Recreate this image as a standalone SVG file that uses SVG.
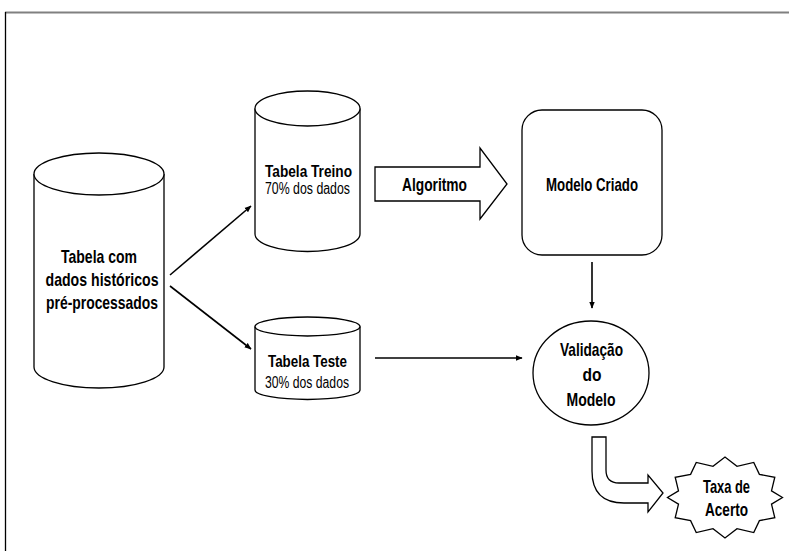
<svg xmlns="http://www.w3.org/2000/svg" width="789" height="551" viewBox="0 0 789 551">
<defs>
<style>
.s{fill:#fff;stroke:#000;stroke-width:1.3}
.t{font-family:"Liberation Sans",Arial,sans-serif;font-weight:bold;font-size:19px;fill:#000;text-anchor:middle}
.m{font-size:17px}
.r{font-family:"Liberation Sans",Arial,sans-serif;font-size:16px;fill:#000;text-anchor:middle}
.c{fill:none;stroke:#000;stroke-width:1.6}
</style>
<marker id="ah" viewBox="0 0 10 10" refX="9" refY="5" markerWidth="7" markerHeight="7" orient="auto" markerUnits="userSpaceOnUse">
<path d="M0,1 L10,5 L0,9 Z" fill="#000"/>
</marker>
</defs>
<rect width="789" height="551" fill="#fff"/>
<line x1="5" y1="12.5" x2="789" y2="12.5" stroke="#808080" stroke-width="2"/>
<line x1="5.5" y1="12" x2="5.5" y2="551" stroke="#000" stroke-width="1.3"/>

<g id="tabela-historica">
<path class="s" d="M34,174 L34,367 A65,21 0 0 0 164,367 L164,174"/>
<ellipse class="s" cx="99" cy="174" rx="65" ry="21"/>
<text class="t" x="99" y="263" textLength="76" lengthAdjust="spacingAndGlyphs">Tabela com</text>
<text class="t" x="102" y="286" textLength="113" lengthAdjust="spacingAndGlyphs">dados históricos</text>
<text class="t" x="102" y="309" textLength="112" lengthAdjust="spacingAndGlyphs">pré-processados</text>
</g>

<g id="tabela-treino">
<path class="s" d="M255,108.5 L255,234 A52.5,17.5 0 0 0 360,234 L360,108.5"/>
<ellipse class="s" cx="307.5" cy="108.5" rx="52.5" ry="17.5"/>
<text class="t m" x="308.5" y="177" textLength="87" lengthAdjust="spacingAndGlyphs">Tabela Treino</text>
<text class="r" x="307.5" y="194" textLength="85" lengthAdjust="spacingAndGlyphs">70% dos dados</text>
</g>

<g id="tabela-teste">
<path class="s" d="M255,326.5 L255,390 A52.5,9.5 0 0 0 360,390 L360,326.5"/>
<ellipse class="s" cx="307.5" cy="326.5" rx="52.5" ry="9.5"/>
<text class="t m" x="307.5" y="367" textLength="79" lengthAdjust="spacingAndGlyphs">Tabela Teste</text>
<text class="r" x="307" y="388" textLength="84" lengthAdjust="spacingAndGlyphs">30% dos dados</text>
</g>

<g id="algoritmo">
<path class="s" d="M375,167 L480,167 L480,148 L507,184 L480,219 L480,201 L375,201 Z"/>
<text class="t" x="434.5" y="191" textLength="65" lengthAdjust="spacingAndGlyphs">Algoritmo</text>
</g>

<g id="modelo-criado">
<rect class="s" x="522" y="110" width="140" height="145" rx="20" ry="20"/>
<text class="t" x="592" y="191" textLength="92" lengthAdjust="spacingAndGlyphs">Modelo Criado</text>
</g>

<g id="validacao">
<ellipse class="s" cx="591" cy="373" rx="58" ry="52"/>
<text class="t" x="591.5" y="356" textLength="63" lengthAdjust="spacingAndGlyphs">Validação</text>
<text class="t" x="592" y="381" textLength="19" lengthAdjust="spacingAndGlyphs">do</text>
<text class="t" x="591" y="406" textLength="49" lengthAdjust="spacingAndGlyphs">Modelo</text>
</g>

<g id="seta-curva">
<path class="s" d="M592,437 L606,437 L606,470 Q606,483 619,483 L648,483 L648,475 L663,493 L648,512 L648,503 L624,503 Q592,503 592,471 Z"/>
</g>

<g id="taxa-acerto">
<polygon class="s" points="782.5,497.5 771.5,490.9 774.8,477.25 759.4,474.4 753.75,462.4 737,466.3 725,457 713,466.3 696.25,462.4 690.6,474.4 675.2,477.25 678.5,490.9 667.5,497.5 678.5,504.1 675.2,517.75 690.6,520.6 696.25,532.6 713,528.7 725,538 737,528.7 753.75,532.6 759.4,520.6 774.8,517.75 771.5,504.1"/>
<text class="t" x="726.5" y="493" textLength="47" lengthAdjust="spacingAndGlyphs">Taxa de</text>
<text class="t" x="726.5" y="516" textLength="43" lengthAdjust="spacingAndGlyphs">Acerto</text>
</g>

<g id="conectores">
<line class="c" x1="170" y1="275" x2="251" y2="206" marker-end="url(#ah)"/>
<line class="c" x1="170" y1="286" x2="251" y2="349" marker-end="url(#ah)"/>
<line class="c" x1="375" y1="358" x2="522" y2="358" marker-end="url(#ah)"/>
<line class="c" x1="592" y1="262" x2="592" y2="308" marker-end="url(#ah)"/>
</g>
</svg>
